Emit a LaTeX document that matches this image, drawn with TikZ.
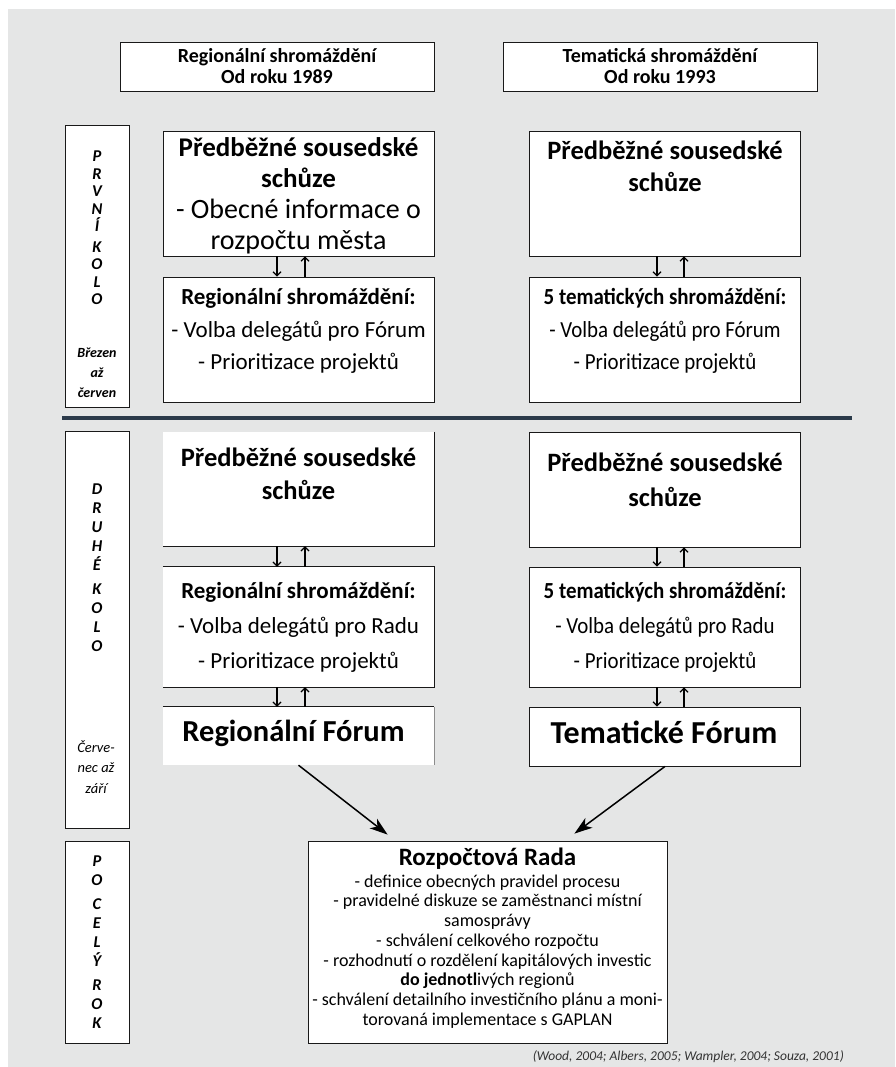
\documentclass[tikz,border=0pt]{standalone}
\usepackage{fontspec}
\setmainfont{Carlito}
\newfontfamily\narrowfont[FakeStretch=0.91]{Carlito}
\usepackage{xcolor}
\usetikzlibrary{arrows.meta,positioning}

\definecolor{bggrey}{HTML}{E5E6E6}
\definecolor{rulenavy}{HTML}{2B3A4A}
\definecolor{citegrey}{HTML}{333333}
\newcommand{\setfs}[2]{\fontsize{#1}{#2}\selectfont\lineskiplimit=-8pt}

\tikzset{
  box/.style={draw=black!90, fill=white, line width=0.8pt, inner sep=0pt},
  openbox/.style={fill=white, inner sep=0pt},
  rim/.style={draw=black!90, line width=0.8pt},
  colbox/.style={box, minimum width=271pt},
  period/.style={box, minimum width=64pt},
  txt/.style={align=center, inner sep=0pt},
  letters/.style={txt, font=\bfseries\itshape\setfs{16.5}{18}},
  twoway/.style={line width=1.2pt, -{Straight Barb[length=4pt,width=8pt]}},
  tocouncil/.style={line width=1.5pt, -{Stealth[length=18pt,width=12pt,inset=5pt]}},
}

\begin{document}
\begin{tikzpicture}[x=1pt, y=-1pt]
\useasboundingbox (0, 0) rectangle (895, 1067);
\fill [bggrey] (8, 9) rectangle (895, 1067);

% headers
\node [box, minimum width=314pt, minimum height=49pt, align=center, font=\bfseries\setfs{20}{21}] (headreg) at (277, 66.5) {Regionální shromáždění\\Od roku 1989};
\node [box, minimum width=314pt, minimum height=49pt, align=center, font=\bfseries\setfs{20}{21}] (headtem) at (660, 66.5) {Tematická shromáždění\\Od roku 1993};

% first round
\node [period, minimum height=282pt] (kolo1) at (97, 266) {};
\node [letters, font=\bfseries\itshape\setfs{16.5}{17.5}] (kolo1t) at (97, 228) {P\\R\\V\\N\\Í\\[3pt]K\\O\\L\\O};
\node [txt, font=\bfseries\itshape\setfs{14}{20}] (kolo1m) at (97, 373) {Březen\\až\\červen};

\node [colbox, minimum height=125pt] (reg1) at (298.5, 193.5) {};
\node [txt, font=\setfs{27}{31}] (reg1t) at (298.5, 196) {\textbf{Předběžné sousedské}\\\textbf{schůze}\\{\setfs{28}{31}- Obecné informace o}\\{\setfs{28}{31}rozpočtu města}};
\node [colbox, minimum height=125pt] (reg2) at (298.5, 339.5) {};
\node [txt, font=\setfs{23}{32.5}] (reg2t) at (298.5, 331) {\textbf{Regionální shromáždění:}\\- Volba delegátů pro Fórum\\- Prioritizace projektů};

\node [colbox, minimum height=125pt] (tem1) at (665, 193.5) {};
\node [txt, font=\bfseries\setfs{26.5}{32}] (tem1t) at (665, 166) {Předběžné sousedské\\schůze};
\node [colbox, minimum height=125pt] (tem2) at (665, 339.5) {};
\node [txt, font=\narrowfont\setfs{23}{32.5}] (tem2t) at (665, 331) {\textbf{5 tematických shromáždění:}\\- Volba delegátů pro Fórum\\- Prioritizace projektů};

\draw [twoway] ([xshift=-21.5pt]reg1.south) -- ([xshift=-21.5pt]reg2.north);
\draw [twoway] ([xshift=6.5pt]reg2.north) -- ([xshift=6.5pt]reg1.south);
\draw [twoway] ([xshift=-8pt]tem1.south) -- ([xshift=-8pt]tem2.north);
\draw [twoway] ([xshift=19pt]tem2.north) -- ([xshift=19pt]tem1.south);

\draw [rulenavy, line width=4pt] (62, 418) -- (852, 418);

% second round
\node [period, minimum height=397pt] (kolo2) at (97, 629.5) {};
\node [letters, font=\bfseries\itshape\setfs{16.5}{19}] (kolo2t) at (97, 568) {D\\R\\U\\H\\É\\[5pt]K\\O\\L\\O};
\node [txt, font=\itshape\setfs{14.5}{20.5}] (kolo2m) at (96, 767) {Červe-\\nec až\\září};

\node [openbox, minimum width=271pt, minimum height=114pt] (reg3) at (298.5, 489) {};
\draw [rim] (reg3.north east) -- (reg3.south east) -- (reg3.south west);
\node [txt, font=\bfseries\setfs{26.5}{33}] (reg3t) at (298.5, 474) {Předběžné sousedské\\schůze};
\node [openbox, minimum width=271pt, minimum height=120pt] (reg4) at (298.5, 627) {};
\draw [rim] (reg4.north west) -- (reg4.north east) -- (reg4.south east) -- (reg4.south west);
\node [txt, font=\setfs{23}{35}] (reg4t) at (298.5, 627) {\textbf{Regionální shromáždění:}\\- Volba delegátů pro Radu\\- Prioritizace projektů};
\node [openbox, minimum width=271pt, minimum height=58pt] (reg5) at (298.5, 736) {};
\draw [rim] (reg5.north west) -- (reg5.north east);
\draw [rim, draw=black!45] (reg5.north east) -- (reg5.south east);
\node [txt, font=\bfseries\setfs{30.5}{32}] (reg5t) at (293.5, 733) {Regionální Fórum};

\node [colbox, minimum height=115pt] (tem3) at (665, 489.5) {};
\node [txt, font=\bfseries\setfs{26.5}{35}] (tem3t) at (665, 479.5) {Předběžné sousedské\\schůze};
\node [colbox, minimum height=120pt] (tem4) at (665, 627) {};
\node [txt, font=\narrowfont\setfs{23}{35}] (tem4t) at (665, 627) {\textbf{5 tematických shromáždění:}\\- Volba delegátů pro Radu\\- Prioritizace projektů};
\node [colbox, minimum height=59pt] (tem5) at (665, 736.5) {};
\node [txt, font=\bfseries\setfs{32}{34}] (tem5t) at (664, 732) {Tematické Fórum};

\draw [twoway] ([xshift=-21.5pt]reg3.south) -- ([xshift=-21.5pt]reg4.north);
\draw [twoway] ([xshift=6.5pt]reg4.north) -- ([xshift=6.5pt]reg3.south);
\draw [twoway] ([xshift=-21.5pt]reg4.south) -- ([xshift=-21.5pt]reg5.north);
\draw [twoway] ([xshift=6.5pt]reg5.north) -- ([xshift=6.5pt]reg4.south);
\draw [twoway] ([xshift=-8pt]tem3.south) -- ([xshift=-8pt]tem4.north);
\draw [twoway] ([xshift=19pt]tem4.north) -- ([xshift=19pt]tem3.south);
\draw [twoway] ([xshift=-8pt]tem4.south) -- ([xshift=-8pt]tem5.north);
\draw [twoway] ([xshift=19pt]tem5.north) -- ([xshift=19pt]tem4.south);

% whole year
\node [period, minimum height=202pt] (kolo3) at (97, 942) {};
\node [letters, font=\bfseries\itshape\setfs{16.5}{19}] (kolo3t) at (97, 942) {P\\O\\[5pt]C\\E\\L\\Ý\\[5pt]R\\O\\K};

\node [box, minimum width=359pt, minimum height=202pt] (rada) at (487.5, 942) {};
\node [txt, font=\setfs{18}{19.7}] (radat) at (487.5, 938) {{\bfseries\setfs{25}{25}Rozpočtová Rada}\\[2pt]- definice obecných pravidel procesu\\- pravidelné diskuze se zaměstnanci místní\\samosprávy\\- schválení celkového rozpočtu\\- rozhodnutí o rozdělení kapitálových investic\\\textbf{do jednotl}ivých regionů\\- schválení detailního investičního plánu a moni-\\torovaná implementace s GAPLAN};

\draw [tocouncil] (reg5.south) -- ([xshift=80pt, yshift=6pt]rada.north west);
\draw [tocouncil] (tem5.south) -- ([xshift=-93pt, yshift=7pt]rada.north east);

\node [anchor=east, inner sep=0pt, text=citegrey, font=\itshape\setfs{13.5}{14}] (cite) at (844, 1057) {(Wood, 2004; Albers, 2005; Wampler, 2004; Souza, 2001)};
\end{tikzpicture}
\end{document}
